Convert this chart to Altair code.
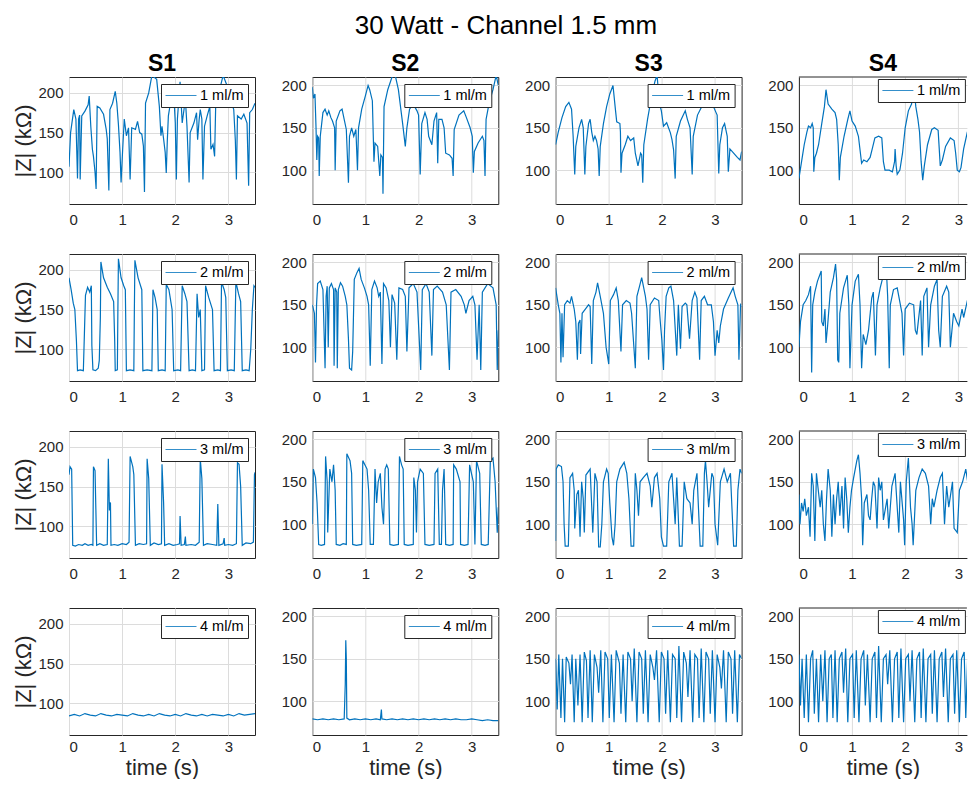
import altair as alt
import pandas as pd

BLUE = "#0072BD"
DARK = "#262626"
GRID = "#DCDCDC"
FONT = "Liberation Sans"

COL_NAMES = ["S1", "S2", "S3", "S4"]
RATES = ["1 ml/m", "2 ml/m", "3 ml/m", "4 ml/m"]
X_TICKS = [0, 1, 2, 3]
Y_TICKS = [100, 150, 200]

# ---- row 1 : 1 ml/m ----
S1_R1 = [(0.00,107),(0.03,150),(0.09,179),(0.13,167),(0.16,92),(0.18,167),(0.20,172),(0.21,91),(0.24,171),(0.30,177),(0.36,185),(0.38,196),(0.41,158),(0.44,129),(0.46,120),(0.49,100),(0.51,79),(0.53,183),(0.58,181),(0.65,173),(0.70,154),(0.72,142),(0.75,77),(0.77,179),(0.82,187),(0.87,202),(0.90,187),(0.93,160),(0.96,125),(0.98,87),(1.01,129),(1.04,167),(1.08,146),(1.12,156),(1.15,91),(1.18,156),(1.25,154),(1.29,164),(1.33,150),(1.37,148),(1.40,133),(1.42,75),(1.44,187),(1.50,200),(1.56,222),(1.65,217),(1.70,183),(1.73,146),(1.75,158),(1.78,142),(1.81,125),(1.83,99),(1.85,140),(1.87,171),(1.92,192),(1.97,200),(2.00,162),(2.02,91),(2.04,167),(2.09,214),(2.13,162),(2.19,192),(2.22,158),(2.26,87),(2.28,150),(2.35,162),(2.40,175),(2.42,141),(2.45,167),(2.47,179),(2.50,167),(2.52,91),(2.55,158),(2.60,171),(2.65,183),(2.67,129),(2.71,135),(2.74,120),(2.76,183),(2.82,200),(2.90,222),(2.98,208),(3.04,192),(3.10,179),(3.13,140),(3.15,91),(3.17,171),(3.24,167),(3.29,173),(3.35,162),(3.38,83),(3.40,175),(3.45,179),(3.50,187)]
S2_R1 = [(0.00,198),(0.02,185),(0.05,190),(0.07,150),(0.085,112),(0.10,140),(0.12,138),(0.13,93),(0.15,140),(0.20,168),(0.24,172),(0.28,165),(0.31,170),(0.35,162),(0.38,158),(0.42,150),(0.43,100),(0.45,158),(0.52,170),(0.56,172),(0.60,160),(0.64,148),(0.68,85),(0.70,140),(0.74,150),(0.78,140),(0.82,148),(0.85,100),(0.87,150),(0.93,172),(1.00,188),(1.05,200),(1.08,195),(1.13,182),(1.16,110),(1.18,132),(1.23,128),(1.27,93),(1.29,118),(1.32,115),(1.33,72),(1.35,175),(1.42,195),(1.50,210),(1.56,212),(1.62,195),(1.70,155),(1.75,128),(1.78,150),(1.83,172),(1.90,178),(1.97,170),(2.00,165),(2.03,95),(2.06,155),(2.12,168),(2.16,160),(2.19,140),(2.25,130),(2.29,158),(2.34,168),(2.36,108),(2.38,160),(2.44,160),(2.48,150),(2.51,120),(2.58,118),(2.63,114),(2.65,93),(2.67,148),(2.76,165),(2.85,170),(2.90,162),(2.97,150),(3.01,140),(3.03,97),(3.05,122),(3.12,132),(3.20,140),(3.23,135),(3.25,93),(3.27,160),(3.33,180),(3.40,195),(3.46,212),(3.50,200)]
S3_R1 = [(0.00,130),(0.05,145),(0.12,162),(0.19,175),(0.25,180),(0.30,172),(0.33,140),(0.36,95),(0.38,128),(0.44,150),(0.49,160),(0.52,150),(0.55,95),(0.57,128),(0.62,155),(0.65,160),(0.68,145),(0.71,135),(0.74,140),(0.77,135),(0.80,125),(0.82,93),(0.84,128),(0.90,155),(0.96,175),(1.02,190),(1.08,200),(1.12,175),(1.15,157),(1.21,155),(1.22,145),(1.23,97),(1.25,120),(1.31,130),(1.36,140),(1.41,135),(1.47,138),(1.50,120),(1.55,105),(1.60,120),(1.62,118),(1.64,85),(1.66,130),(1.73,160),(1.80,185),(1.87,205),(1.91,212),(1.95,180),(1.99,170),(2.03,152),(2.09,156),(2.16,144),(2.19,136),(2.22,124),(2.25,90),(2.27,140),(2.35,158),(2.44,170),(2.48,160),(2.53,150),(2.57,95),(2.59,140),(2.67,165),(2.79,180),(2.85,178),(2.97,175),(3.04,165),(3.07,96),(3.09,130),(3.14,150),(3.18,155),(3.23,140),(3.25,98),(3.28,125),(3.35,120),(3.42,115),(3.47,112),(3.50,122)]
S4_R1 = [(0.00,90),(0.05,110),(0.10,130),(0.15,145),(0.18,152),(0.22,150),(0.25,155),(0.27,150),(0.28,98),(0.30,115),(0.33,120),(0.37,130),(0.43,155),(0.48,175),(0.51,195),(0.55,178),(0.62,172),(0.68,168),(0.71,160),(0.74,130),(0.76,88),(0.78,115),(0.85,140),(0.92,160),(0.96,170),(1.00,158),(1.06,152),(1.12,140),(1.18,108),(1.22,112),(1.28,110),(1.34,115),(1.38,125),(1.43,138),(1.50,140),(1.56,138),(1.59,110),(1.62,100),(1.70,100),(1.76,98),(1.80,110),(1.81,125),(1.83,105),(1.85,95),(1.90,100),(1.95,120),(2.00,150),(2.06,170),(2.12,178),(2.16,200),(2.20,175),(2.24,160),(2.27,145),(2.30,110),(2.33,88),(2.36,105),(2.42,130),(2.50,148),(2.55,150),(2.62,147),(2.66,105),(2.70,112),(2.76,128),(2.85,138),(2.92,135),(2.95,120),(2.98,100),(3.02,98),(3.05,103),(3.10,125),(3.17,145),(3.23,152),(3.26,155),(3.28,95),(3.30,112),(3.36,108)]

# ---- row 2 : 2 ml/m ----
S1_R2 = [(0.00,190),(0.04,175),(0.08,158),(0.11,150),(0.14,110),(0.16,73),(0.21,74),(0.27,73),(0.29,120),(0.31,168),(0.35,178),(0.39,172),(0.42,180),(0.43,105),(0.45,74),(0.50,73),(0.55,76),(0.57,86),(0.59,140),(0.60,210),(0.65,190),(0.72,178),(0.78,170),(0.84,160),(0.86,110),(0.87,73),(0.91,74),(0.92,150),(0.93,214),(0.98,190),(1.03,180),(1.06,175),(1.08,73),(1.15,74),(1.22,73),(1.23,150),(1.24,212),(1.30,190),(1.37,175),(1.39,73),(1.47,74),(1.56,73),(1.58,175),(1.62,165),(1.66,150),(1.68,73),(1.75,74),(1.81,73),(1.83,182),(1.88,175),(1.94,150),(1.97,73),(2.05,74),(2.10,73),(2.13,180),(2.18,170),(2.22,160),(2.26,73),(2.32,74),(2.38,73),(2.41,170),(2.44,140),(2.47,150),(2.50,73),(2.55,74),(2.57,180),(2.63,165),(2.70,150),(2.73,73),(2.80,74),(2.85,73),(2.87,185),(2.92,175),(2.95,165),(2.98,73),(3.05,74),(3.11,73),(3.14,185),(3.19,170),(3.23,160),(3.26,73),(3.33,74),(3.39,73),(3.42,100),(3.45,150),(3.48,180),(3.50,178)]
S2_R2 = [(0.00,150),(0.04,140),(0.06,82),(0.08,150),(0.10,175),(0.15,178),(0.20,168),(0.24,75),(0.26,160),(0.28,172),(0.30,100),(0.32,170),(0.36,175),(0.40,168),(0.41,78),(0.43,170),(0.46,165),(0.47,75),(0.49,168),(0.53,176),(0.57,172),(0.62,160),(0.65,150),(0.68,110),(0.70,75),(0.74,73),(0.76,95),(0.79,180),(0.84,188),(0.88,193),(0.92,180),(0.98,170),(1.03,160),(1.06,150),(1.09,78),(1.12,168),(1.17,178),(1.22,170),(1.25,160),(1.28,165),(1.31,80),(1.34,175),(1.39,170),(1.44,155),(1.47,100),(1.50,162),(1.55,152),(1.59,85),(1.63,170),(1.70,168),(1.75,160),(1.78,95),(1.82,170),(1.90,175),(1.97,165),(2.04,73),(2.07,168),(2.14,175),(2.20,165),(2.25,90),(2.28,168),(2.35,172),(2.45,165),(2.52,150),(2.58,73),(2.61,165),(2.70,168),(2.80,160),(2.86,150),(2.89,140),(2.95,155),(3.02,160),(3.06,150),(3.10,85),(3.14,150),(3.17,73),(3.20,165),(3.30,175),(3.40,170),(3.46,150),(3.48,73),(3.50,120)]
S3_R2 = [(0.00,170),(0.05,150),(0.08,140),(0.10,82),(0.12,140),(0.14,88),(0.17,150),(0.22,155),(0.27,152),(0.30,160),(0.35,145),(0.38,130),(0.41,85),(0.43,128),(0.46,132),(0.47,92),(0.50,140),(0.56,145),(0.62,150),(0.65,148),(0.68,80),(0.71,155),(0.76,165),(0.79,176),(0.84,160),(0.87,150),(0.90,140),(0.95,100),(1.00,80),(1.03,155),(1.09,162),(1.14,170),(1.18,155),(1.23,95),(1.26,150),(1.33,155),(1.40,152),(1.43,140),(1.50,75),(1.53,160),(1.58,172),(1.62,182),(1.69,160),(1.72,145),(1.75,85),(1.78,150),(1.86,158),(1.94,155),(1.97,130),(2.00,108),(2.03,73),(2.05,120),(2.08,160),(2.13,170),(2.17,172),(2.22,155),(2.28,90),(2.31,150),(2.35,98),(2.38,148),(2.44,152),(2.47,150),(2.52,110),(2.57,155),(2.62,165),(2.66,158),(2.71,85),(2.74,155),(2.80,160),(2.86,150),(2.93,150),(2.97,130),(3.00,90),(3.04,120),(3.07,105),(3.10,125),(3.16,145),(3.25,158),(3.34,170),(3.38,160),(3.43,150),(3.45,85),(3.48,150),(3.50,148)]
S4_R2 = [(0.00,100),(0.03,130),(0.08,150),(0.13,155),(0.18,162),(0.22,172),(0.24,70),(0.26,150),(0.30,165),(0.35,178),(0.42,190),(0.43,130),(0.46,125),(0.49,145),(0.51,105),(0.54,125),(0.59,165),(0.65,182),(0.69,198),(0.71,180),(0.73,85),(0.75,82),(0.77,140),(0.84,170),(0.91,185),(0.94,150),(0.96,75),(1.00,150),(1.06,178),(1.12,186),(1.15,150),(1.18,75),(1.21,115),(1.26,103),(1.31,120),(1.37,158),(1.40,165),(1.44,90),(1.47,150),(1.53,170),(1.59,185),(1.64,199),(1.67,160),(1.70,75),(1.72,150),(1.78,168),(1.85,170),(1.91,150),(1.94,140),(1.97,90),(2.00,145),(2.08,152),(2.16,150),(2.19,120),(2.22,115),(2.29,155),(2.32,90),(2.35,160),(2.41,170),(2.44,100),(2.48,150),(2.55,172),(2.60,180),(2.63,120),(2.66,100),(2.70,160),(2.78,172),(2.82,165),(2.85,100),(2.91,140),(2.97,130),(3.01,125),(3.07,145),(3.10,135),(3.17,155),(3.20,160),(3.23,108),(3.26,100),(3.33,140)]

# ---- row 3 : 3 ml/m ----
S1_R3 = [(0.00,165),(0.02,175),(0.05,172),(0.07,76),(0.12,75),(0.18,77),(0.25,76),(0.30,78),(0.36,76),(0.42,77),(0.45,76),(0.46,175),(0.49,170),(0.52,76),(0.58,78),(0.65,76),(0.72,77),(0.74,185),(0.76,120),(0.78,130),(0.79,76),(0.85,77),(0.92,76),(1.00,78),(1.08,77),(1.13,80),(1.15,188),(1.20,175),(1.22,165),(1.25,76),(1.32,78),(1.40,77),(1.46,78),(1.47,185),(1.50,160),(1.53,76),(1.60,79),(1.68,77),(1.74,78),(1.75,178),(1.78,130),(1.80,76),(1.88,78),(1.96,76),(2.04,77),(2.08,78),(2.09,113),(2.11,76),(2.17,77),(2.19,87),(2.20,76),(2.30,77),(2.38,76),(2.45,80),(2.47,185),(2.50,160),(2.53,76),(2.60,78),(2.70,77),(2.78,76),(2.80,128),(2.82,76),(2.90,78),(2.92,85),(2.93,76),(3.00,77),(3.08,76),(3.15,78),(3.17,180),(3.20,178),(3.23,150),(3.26,76),(3.33,79),(3.42,78),(3.47,80),(3.49,165),(3.50,168)]
S2_R3 = [(0.00,100),(0.02,165),(0.06,155),(0.09,125),(0.12,76),(0.17,75),(0.23,76),(0.25,180),(0.28,150),(0.29,90),(0.33,165),(0.37,150),(0.40,170),(0.43,140),(0.45,76),(0.52,75),(0.58,77),(0.64,76),(0.65,183),(0.71,175),(0.74,160),(0.76,76),(0.83,75),(0.93,76),(0.95,175),(1.03,165),(1.06,140),(1.09,76),(1.15,76),(1.18,165),(1.21,125),(1.24,150),(1.28,160),(1.31,120),(1.34,100),(1.37,165),(1.40,170),(1.43,165),(1.46,76),(1.53,75),(1.62,76),(1.64,180),(1.68,170),(1.71,165),(1.73,76),(1.80,75),(1.90,76),(1.91,155),(1.94,140),(1.96,90),(1.98,150),(2.03,165),(2.09,160),(2.12,76),(2.20,75),(2.29,76),(2.31,160),(2.36,165),(2.39,76),(2.43,76),(2.45,140),(2.48,165),(2.50,110),(2.51,76),(2.58,75),(2.65,76),(2.66,170),(2.71,165),(2.78,150),(2.79,76),(2.86,75),(2.93,76),(2.96,170),(3.03,150),(3.06,76),(3.09,175),(3.15,160),(3.18,76),(3.25,75),(3.31,76),(3.35,175),(3.40,178),(3.44,150),(3.48,90),(3.50,120)]
S3_R3 = [(0.00,80),(0.01,165),(0.05,170),(0.11,168),(0.14,150),(0.16,100),(0.18,74),(0.24,74),(0.27,155),(0.32,160),(0.35,140),(0.36,95),(0.40,135),(0.43,140),(0.46,85),(0.49,150),(0.52,130),(0.54,90),(0.57,158),(0.65,165),(0.68,120),(0.70,90),(0.74,160),(0.78,150),(0.81,73),(0.84,73),(0.87,100),(0.90,150),(0.96,165),(0.99,160),(1.02,125),(1.06,85),(1.09,75),(1.12,100),(1.15,150),(1.21,165),(1.29,173),(1.34,160),(1.38,130),(1.42,74),(1.47,74),(1.50,160),(1.53,140),(1.56,110),(1.59,150),(1.65,155),(1.72,160),(1.78,145),(1.81,120),(1.86,155),(1.91,160),(1.96,130),(1.99,85),(2.03,74),(2.09,74),(2.13,150),(2.19,160),(2.22,130),(2.25,100),(2.28,155),(2.33,74),(2.38,74),(2.42,150),(2.47,130),(2.53,125),(2.57,100),(2.60,140),(2.66,160),(2.72,74),(2.77,74),(2.80,160),(2.82,175),(2.85,150),(2.88,120),(2.94,160),(2.97,155),(3.00,100),(3.05,75),(3.10,150),(3.17,165),(3.23,150),(3.29,160),(3.35,74),(3.40,74),(3.43,140),(3.47,165),(3.50,160)]
S4_R3 = [(0.00,135),(0.02,100),(0.05,125),(0.08,115),(0.11,130),(0.14,110),(0.18,120),(0.21,85),(0.24,160),(0.27,145),(0.30,80),(0.33,160),(0.40,120),(0.43,140),(0.46,100),(0.49,80),(0.52,130),(0.55,165),(0.59,140),(0.62,85),(0.65,135),(0.68,100),(0.71,130),(0.74,150),(0.77,110),(0.81,145),(0.84,95),(0.87,155),(0.90,130),(0.93,90),(0.96,120),(0.99,140),(1.03,155),(1.09,175),(1.12,182),(1.15,160),(1.18,130),(1.20,75),(1.23,125),(1.28,135),(1.31,110),(1.34,105),(1.37,130),(1.40,150),(1.43,145),(1.47,95),(1.50,155),(1.53,140),(1.56,150),(1.59,105),(1.66,130),(1.69,95),(1.75,145),(1.81,160),(1.85,120),(1.88,90),(1.91,150),(1.97,105),(1.99,75),(2.02,150),(2.06,178),(2.10,120),(2.13,100),(2.15,75),(2.20,140),(2.26,155),(2.32,165),(2.38,160),(2.44,145),(2.48,100),(2.51,130),(2.54,120),(2.60,140),(2.66,155),(2.70,160),(2.74,100),(2.78,145),(2.82,120),(2.89,150),(2.92,95),(2.98,90),(3.02,140),(3.08,150),(3.14,165),(3.20,140),(3.23,100),(3.26,80),(3.30,150),(3.33,115)]

# ---- row 4 : 4 ml/m ----
S1_R4 = [(0.00,84),(0.10,86),(0.20,84),(0.30,87),(0.40,85),(0.50,84),(0.60,87),(0.70,85),(0.80,84),(0.90,86),(1.00,85),(1.10,84),(1.20,87),(1.30,85),(1.40,84),(1.50,86),(1.60,84),(1.70,87),(1.80,85),(1.90,84),(2.00,86),(2.10,84),(2.20,87),(2.30,85),(2.40,84),(2.50,86),(2.60,84),(2.70,86),(2.80,85),(2.90,84),(3.00,86),(3.10,84),(3.20,87),(3.30,85),(3.40,86),(3.50,87)]
S2_R4 = [(0.00,79),(0.10,78),(0.20,79),(0.30,78),(0.40,79),(0.50,78),(0.60,79),(0.62,120),(0.63,172),(0.64,150),(0.65,80),(0.70,78),(0.80,79),(0.90,78),(1.00,79),(1.10,78),(1.20,79),(1.28,78),(1.30,90),(1.31,79),(1.40,78),(1.50,79),(1.60,78),(1.70,79),(1.80,78),(1.90,79),(2.00,78),(2.10,79),(2.20,78),(2.30,79),(2.40,78),(2.50,79),(2.60,78),(2.70,79),(2.80,78),(2.90,78),(3.00,79),(3.10,78),(3.20,77),(3.30,78),(3.40,77),(3.50,77)]
S3_R4 = [(0.00,150),(0.03,90),(0.06,155),(0.10,80),(0.13,150),(0.17,75),(0.20,152),(0.25,145),(0.28,120),(0.31,155),(0.35,75),(0.38,150),(0.42,95),(0.46,155),(0.50,75),(0.54,158),(0.58,148),(0.61,80),(0.65,160),(0.69,75),(0.73,155),(0.78,140),(0.81,110),(0.85,160),(0.89,75),(0.93,158),(0.98,150),(1.01,80),(1.05,155),(1.10,75),(1.14,160),(1.20,145),(1.23,85),(1.27,155),(1.32,75),(1.36,158),(1.41,150),(1.44,100),(1.48,162),(1.53,75),(1.57,158),(1.62,150),(1.65,85),(1.69,160),(1.74,75),(1.78,155),(1.83,140),(1.86,125),(1.90,160),(1.95,75),(1.99,158),(2.04,150),(2.07,85),(2.11,160),(2.16,75),(2.20,155),(2.25,150),(2.28,80),(2.32,165),(2.37,75),(2.41,158),(2.46,145),(2.49,105),(2.53,160),(2.58,75),(2.62,155),(2.67,150),(2.70,80),(2.74,162),(2.79,75),(2.83,158),(2.88,150),(2.91,85),(2.95,160),(3.00,75),(3.04,155),(3.09,140),(3.12,115),(3.16,160),(3.21,75),(3.25,158),(3.30,150),(3.33,85),(3.37,160),(3.42,75),(3.46,155),(3.50,150)]
S4_R4 = [(0.00,155),(0.03,95),(0.06,150),(0.10,80),(0.14,155),(0.18,75),(0.22,150),(0.26,160),(0.29,85),(0.33,150),(0.37,75),(0.41,155),(0.45,100),(0.49,160),(0.53,75),(0.57,150),(0.61,155),(0.64,80),(0.68,160),(0.72,75),(0.76,150),(0.81,158),(0.84,110),(0.88,162),(0.92,75),(0.96,150),(1.01,155),(1.04,80),(1.08,160),(1.13,75),(1.17,150),(1.22,160),(1.25,95),(1.29,155),(1.34,75),(1.38,150),(1.43,158),(1.46,80),(1.50,165),(1.55,75),(1.59,150),(1.64,155),(1.67,120),(1.71,160),(1.76,75),(1.80,150),(1.85,158),(1.88,80),(1.92,162),(1.97,75),(2.01,150),(2.06,155),(2.09,100),(2.13,160),(2.18,75),(2.22,150),(2.27,158),(2.30,80),(2.34,162),(2.39,75),(2.43,150),(2.48,155),(2.51,85),(2.55,160),(2.60,75),(2.64,150),(2.69,158),(2.72,105),(2.76,162),(2.81,75),(2.85,150),(2.90,155),(2.93,85),(2.97,160),(3.02,75),(3.06,150),(3.11,158),(3.14,80),(3.18,160),(3.23,75),(3.27,150),(3.32,155),(3.35,85)]

GRID_DATA = [
    [S1_R1, S2_R1, S3_R1, S4_R1],
    [S1_R2, S2_R2, S3_R2, S4_R2],
    [S1_R3, S2_R3, S3_R3, S4_R3],
    [S1_R4, S2_R4, S3_R4, S4_R4],
]

W = 186
H = 127
W4 = 168
PX_PER_S = W / 3.5
X4_MAX = W4 / PX_PER_S


def panel(points, col, row):
    df = pd.DataFrame(points, columns=["t", "z"])
    df["rate"] = RATES[row]
    ymax = 220 if col == 0 else 210
    xmax = 3.5 if col < 3 else X4_MAX
    width = W if col < 3 else W4
    last = col == 3

    xaxis_kw = dict(values=X_TICKS, format="d", labelFontSize=15, labelColor=DARK,
                    labelPadding=(4 if row == 3 else 8),
                    ticks=False, domain=last, domainColor=DARK, grid=True, gridColor=GRID,
                    labelFont=FONT, title=None)
    if row == 3:
        xaxis_kw.update(title="time (s)", titleFontSize=22, titleFontWeight="normal",
                        titleColor=DARK, titlePadding=3, titleFont=FONT)
    yaxis_kw = dict(values=Y_TICKS, format="d", labelFontSize=15, labelColor=DARK, labelPadding=6,
                    ticks=False, domain=last, domainColor=DARK, grid=True, gridColor=GRID,
                    labelFont=FONT, title=None)
    if col == 0:
        yaxis_kw.update(title="|Z| (kΩ)", titleFontSize=22, titleFontWeight="normal",
                        titleColor=DARK, titlePadding=2, titleFont=FONT)

    legend = alt.Legend(orient="top-right", title=None, fillColor="white", strokeColor=DARK,
                        symbolType="stroke", symbolStrokeWidth=0.8, symbolSize=961,
                        clipHeight=15, labelFontSize=14.5, labelColor="black", labelFont=FONT,
                        padding=4, offset=(2 if last else 7), cornerRadius=0, labelOffset=3)

    line = alt.Chart(df).mark_line(strokeWidth=1.2, clip=True).encode(
        x=alt.X("t:Q", scale=alt.Scale(domain=[0, xmax], nice=False, zero=False),
                axis=alt.Axis(**xaxis_kw)),
        y=alt.Y("z:Q", scale=alt.Scale(domain=[60, ymax], nice=False, zero=False),
                axis=alt.Axis(**yaxis_kw)),
        color=alt.Color("rate:N", scale=alt.Scale(range=[BLUE]), legend=legend),
    )
    props = dict(width=width, height=H)
    if row == 0:
        props["title"] = alt.Title(COL_NAMES[col], fontSize=23, fontWeight="bold",
                                   color="black", offset=1, font=FONT)
    if last:
        top = alt.Chart(pd.DataFrame({"a": [0]})).mark_rule(color=DARK, strokeWidth=1).encode(
            y=alt.datum(ymax), x=alt.datum(0), x2=alt.datum(xmax))
        ch = alt.layer(line, top).properties(view=alt.ViewBackground(stroke=None), **props)
    else:
        ch = line.properties(**props)
    return ch


panels = [panel(GRID_DATA[r][c], c, r) for r in range(4) for c in range(4)]

chart = alt.concat(*panels, columns=4, spacing={"row": 50, "column": 57.3},
                   bounds="flush").resolve_scale(
    color="independent").resolve_legend(color="independent").properties(
    title=alt.Title("30 Watt - Channel 1.5 mm", fontSize=26, fontWeight="normal",
                    color="black", anchor="middle", offset=14, dx=16, font=FONT),
    padding={"left": 4, "right": 0, "top": 4, "bottom": 0},
).configure(font=FONT, background="white").configure_view(stroke=DARK, strokeWidth=1)

chart.save("out.html", embed_options={"renderer": "svg", "actions": False})
